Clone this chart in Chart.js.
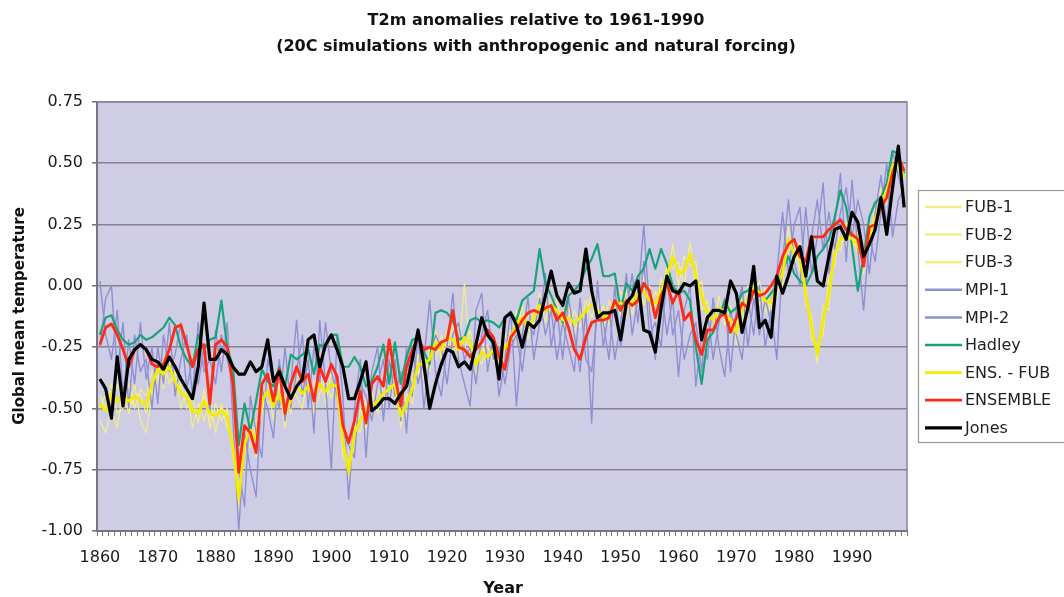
<!DOCTYPE html>
<html><head><meta charset="utf-8">
<script src="https://cdn.jsdelivr.net/npm/chart.js@4.4.0/dist/chart.umd.min.js"></script>
<style>html,body{margin:0;padding:0;background:#fff}#wrap{width:1064px;height:597px;position:relative}</style>
</head><body><div id="wrap"><canvas id="c" width="1064" height="597"></canvas></div>
<script>
const firstYear = 1860, lastYear = 1999;
const years = [];
for (let y = firstYear; y <= lastYear; y++) years.push(String(y));
const yTicks = [-1.00, -0.75, -0.50, -0.25, 0.00, 0.25, 0.50, 0.75];

const fub1 = [
-0.55,-0.60,-0.50,-0.58,-0.42,-0.52,-0.40,-0.55,-0.60,-0.45,
-0.38,-0.30,-0.40,-0.35,-0.50,-0.42,-0.58,-0.48,-0.55,-0.45,
-0.60,-0.48,-0.58,-0.62,-0.92,-0.60,-0.66,-0.55,-0.52,-0.38,
-0.55,-0.40,-0.58,-0.42,-0.45,-0.50,-0.35,-0.52,-0.44,-0.38,
-0.46,-0.36,-0.70,-0.72,-0.66,-0.50,-0.58,-0.43,-0.52,-0.40,
-0.48,-0.35,-0.58,-0.44,-0.48,-0.28,-0.38,-0.25,-0.30,-0.20,
-0.26,-0.16,-0.30,0.01,-0.28,-0.36,-0.22,-0.34,-0.20,-0.33,
-0.30,-0.18,-0.20,-0.08,-0.22,-0.10,-0.14,-0.04,-0.12,-0.06,
-0.18,-0.08,-0.20,-0.10,-0.14,-0.02,-0.15,-0.08,-0.16,-0.04,
-0.12,-0.02,-0.12,0.03,-0.08,0.00,-0.12,0.03,-0.01,0.17,
0.00,0.12,0.08,0.10,-0.10,-0.06,-0.20,-0.04,-0.16,-0.08,
-0.24,-0.04,-0.12,0.06,-0.08,-0.01,-0.12,0.05,0.00,0.24,
0.08,0.18,-0.08,-0.12,-0.32,-0.08,-0.10,0.18,0.14,0.26,
0.14,0.22,0.05,0.26,0.22,0.40,0.33,0.52,0.48,0.40];

const fub2 = [
-0.45,-0.50,-0.40,-0.52,-0.50,-0.40,-0.50,-0.42,-0.45,-0.35,
-0.30,-0.42,-0.28,-0.44,-0.40,-0.50,-0.46,-0.56,-0.42,-0.58,
-0.48,-0.55,-0.50,-0.70,-0.82,-0.68,-0.54,-0.70,-0.44,-0.48,
-0.44,-0.48,-0.45,-0.52,-0.36,-0.40,-0.47,-0.40,-0.36,-0.48,
-0.35,-0.46,-0.58,-0.80,-0.55,-0.60,-0.46,-0.54,-0.42,-0.48,
-0.38,-0.45,-0.48,-0.52,-0.36,-0.36,-0.28,-0.35,-0.18,-0.30,
-0.18,-0.27,-0.22,-0.26,-0.18,-0.28,-0.32,-0.24,-0.31,-0.25,
-0.20,-0.26,-0.10,-0.18,-0.12,-0.16,-0.03,-0.15,-0.04,-0.14,
-0.10,-0.18,-0.10,-0.17,-0.06,-0.13,-0.05,-0.18,-0.06,-0.12,
-0.02,-0.13,-0.02,-0.08,0.04,-0.11,-0.02,-0.07,0.09,0.07,
0.10,0.00,0.18,-0.02,0.02,-0.16,-0.08,-0.14,-0.06,-0.20,
-0.14,-0.14,0.00,-0.05,0.02,-0.11,-0.02,-0.05,0.10,0.14,
0.18,0.06,0.02,-0.22,-0.24,-0.20,0.04,0.08,0.24,0.16,
0.24,0.12,0.15,0.16,0.32,0.30,0.43,0.46,0.54,0.48];

const fub3 = [
-0.50,-0.44,-0.46,-0.40,-0.48,-0.50,-0.46,-0.44,-0.52,-0.42,
-0.36,-0.35,-0.32,-0.40,-0.42,-0.44,-0.50,-0.52,-0.45,-0.54,
-0.52,-0.50,-0.52,-0.66,-0.86,-0.64,-0.58,-0.64,-0.46,-0.44,
-0.48,-0.44,-0.50,-0.48,-0.42,-0.42,-0.42,-0.44,-0.40,-0.42,
-0.40,-0.42,-0.62,-0.76,-0.58,-0.56,-0.50,-0.50,-0.48,-0.44,
-0.40,-0.40,-0.54,-0.48,-0.42,-0.32,-0.30,-0.30,-0.22,-0.28,
-0.20,-0.22,-0.26,-0.20,-0.24,-0.32,-0.26,-0.30,-0.26,-0.28,
-0.26,-0.22,-0.16,-0.12,-0.18,-0.12,-0.08,-0.10,-0.08,-0.10,
-0.14,-0.12,-0.16,-0.12,-0.10,-0.08,-0.10,-0.14,-0.10,-0.08,
-0.08,-0.08,-0.06,-0.04,-0.02,-0.06,-0.08,-0.02,0.04,0.12,
0.06,0.06,0.12,0.04,-0.04,-0.10,-0.14,-0.10,-0.12,-0.14,
-0.18,-0.10,-0.06,0.00,-0.04,-0.06,-0.08,0.00,0.06,0.18,
0.12,0.12,-0.02,-0.16,-0.28,-0.14,-0.04,0.12,0.18,0.20,
0.18,0.16,0.10,0.20,0.26,0.34,0.38,0.48,0.50,0.44];

const mpi1 = [
0.02,-0.20,-0.30,-0.10,-0.45,-0.22,-0.40,-0.15,-0.38,-0.25,
-0.48,-0.20,-0.35,-0.28,-0.15,-0.42,-0.30,-0.40,-0.25,-0.52,
-0.18,-0.35,-0.15,-0.55,-1.00,-0.60,-0.75,-0.86,-0.42,-0.50,
-0.62,-0.30,-0.55,-0.40,-0.14,-0.45,-0.30,-0.60,-0.14,-0.40,
-0.75,-0.20,-0.45,-0.87,-0.50,-0.30,-0.70,-0.35,-0.25,-0.55,
-0.30,-0.45,-0.35,-0.60,-0.25,-0.40,-0.30,-0.06,-0.35,-0.45,
-0.25,-0.03,-0.30,-0.40,-0.49,-0.10,-0.03,-0.35,-0.20,-0.45,
-0.30,-0.10,-0.49,-0.20,-0.05,-0.30,-0.15,0.05,-0.25,-0.10,
-0.30,-0.05,-0.20,-0.35,-0.10,-0.56,0.02,-0.25,-0.10,-0.30,
-0.15,0.05,-0.20,-0.05,0.25,-0.10,-0.30,0.00,-0.20,-0.05,
-0.37,-0.10,0.00,-0.41,-0.20,-0.30,-0.05,-0.25,-0.37,-0.10,
-0.20,-0.30,-0.05,-0.20,0.00,-0.25,-0.10,-0.30,0.10,0.35,
0.10,0.00,0.32,0.05,0.20,0.42,0.05,0.25,0.46,0.10,
0.43,0.15,-0.10,0.20,0.10,0.30,0.50,0.20,0.35,0.40];

const mpi2 = [
-0.25,-0.05,0.00,-0.35,-0.15,-0.50,-0.20,-0.35,-0.30,-0.50,
-0.25,-0.40,-0.15,-0.45,-0.30,-0.20,-0.45,-0.15,-0.35,-0.30,
-0.40,-0.20,-0.30,-0.40,-0.75,-0.90,-0.45,-0.60,-0.70,-0.30,
-0.40,-0.50,-0.25,-0.50,-0.35,-0.20,-0.50,-0.25,-0.40,-0.15,
-0.35,-0.45,-0.60,-0.65,-0.70,-0.40,-0.45,-0.55,-0.40,-0.30,
-0.50,-0.30,-0.55,-0.25,-0.45,-0.20,-0.50,-0.30,-0.20,-0.25,
-0.40,-0.20,-0.15,-0.30,-0.25,-0.40,-0.20,-0.10,-0.30,-0.25,
-0.40,-0.25,-0.20,-0.35,-0.15,-0.20,-0.05,-0.20,-0.10,-0.30,
-0.15,-0.25,-0.35,-0.05,-0.30,-0.35,-0.10,-0.15,-0.30,0.00,
-0.25,-0.10,0.05,-0.15,0.10,-0.20,-0.15,-0.25,0.05,-0.20,
-0.10,-0.30,-0.20,-0.15,-0.35,-0.10,-0.30,-0.15,-0.05,-0.35,
-0.10,0.00,-0.25,-0.05,-0.20,-0.05,-0.15,0.05,0.30,0.05,
0.25,0.32,0.00,0.20,0.35,0.15,0.30,0.15,0.30,0.40,
0.20,0.35,0.25,0.05,0.30,0.45,0.25,0.55,0.45,0.35];

const hadley = [
-0.20,-0.13,-0.12,-0.18,-0.22,-0.24,-0.23,-0.20,-0.22,-0.21,
-0.19,-0.17,-0.13,-0.16,-0.25,-0.30,-0.33,-0.20,-0.26,-0.22,
-0.21,-0.06,-0.25,-0.33,-0.65,-0.48,-0.59,-0.47,-0.34,-0.39,
-0.41,-0.33,-0.41,-0.28,-0.30,-0.28,-0.26,-0.36,-0.24,-0.25,
-0.20,-0.20,-0.33,-0.33,-0.29,-0.33,-0.41,-0.39,-0.33,-0.24,
-0.40,-0.23,-0.40,-0.29,-0.22,-0.21,-0.27,-0.32,-0.11,-0.10,
-0.11,-0.14,-0.22,-0.21,-0.14,-0.13,-0.15,-0.14,-0.15,-0.17,
-0.13,-0.11,-0.14,-0.06,-0.04,-0.02,0.15,0.01,-0.04,-0.10,
-0.15,-0.04,-0.02,0.01,0.07,0.11,0.17,0.04,0.04,0.05,
-0.10,0.01,-0.02,0.04,0.07,0.15,0.07,0.15,0.09,0.00,
-0.03,-0.02,-0.06,-0.25,-0.40,-0.22,-0.19,-0.13,-0.06,-0.11,
-0.09,-0.03,-0.02,0.02,-0.03,-0.06,-0.03,0.00,0.06,0.12,
0.05,0.02,0.00,0.05,0.12,0.15,0.19,0.28,0.39,0.32,
0.16,-0.02,0.12,0.28,0.34,0.36,0.42,0.55,0.54,0.46];

const ensFub = [
-0.48,-0.51,-0.44,-0.47,-0.45,-0.47,-0.45,-0.47,-0.49,-0.40,
-0.34,-0.36,-0.33,-0.39,-0.44,-0.45,-0.51,-0.52,-0.47,-0.52,
-0.53,-0.51,-0.53,-0.66,-0.87,-0.64,-0.59,-0.63,-0.47,-0.43,
-0.49,-0.44,-0.51,-0.47,-0.41,-0.44,-0.41,-0.45,-0.40,-0.43,
-0.40,-0.41,-0.63,-0.76,-0.60,-0.55,-0.51,-0.49,-0.47,-0.44,
-0.42,-0.40,-0.53,-0.48,-0.42,-0.32,-0.32,-0.30,-0.23,-0.26,
-0.21,-0.22,-0.26,-0.21,-0.23,-0.32,-0.27,-0.29,-0.26,-0.29,
-0.25,-0.22,-0.15,-0.13,-0.17,-0.13,-0.08,-0.10,-0.08,-0.10,
-0.14,-0.13,-0.15,-0.13,-0.10,-0.08,-0.10,-0.13,-0.11,-0.08,
-0.07,-0.08,-0.07,-0.03,-0.02,-0.06,-0.07,-0.02,0.04,0.12,
0.05,0.06,0.13,0.04,-0.04,-0.11,-0.14,-0.09,-0.11,-0.14,
-0.19,-0.09,-0.06,0.00,-0.03,-0.06,-0.07,0.00,0.05,0.19,
0.13,0.12,-0.03,-0.17,-0.28,-0.14,-0.03,0.13,0.19,0.21,
0.19,0.17,0.10,0.21,0.27,0.35,0.38,0.49,0.51,0.44];

const ensemble = [
-0.24,-0.17,-0.155,-0.20,-0.26,-0.33,-0.26,-0.24,-0.26,-0.32,
-0.33,-0.32,-0.26,-0.17,-0.16,-0.24,-0.33,-0.26,-0.24,-0.48,
-0.24,-0.22,-0.25,-0.40,-0.76,-0.57,-0.60,-0.68,-0.40,-0.36,
-0.47,-0.34,-0.52,-0.40,-0.33,-0.39,-0.36,-0.47,-0.33,-0.39,
-0.32,-0.37,-0.57,-0.64,-0.55,-0.43,-0.56,-0.40,-0.37,-0.41,
-0.22,-0.37,-0.49,-0.33,-0.26,-0.21,-0.26,-0.25,-0.26,-0.23,
-0.22,-0.10,-0.25,-0.26,-0.29,-0.26,-0.23,-0.18,-0.21,-0.29,
-0.34,-0.21,-0.18,-0.14,-0.11,-0.10,-0.11,-0.09,-0.08,-0.14,
-0.11,-0.17,-0.26,-0.30,-0.21,-0.15,-0.14,-0.14,-0.13,-0.06,
-0.10,-0.06,-0.08,-0.06,0.01,-0.02,-0.13,-0.04,0.01,-0.07,
-0.02,-0.14,-0.11,-0.22,-0.28,-0.18,-0.18,-0.13,-0.11,-0.19,
-0.13,-0.07,-0.09,-0.02,-0.04,-0.03,0.00,0.04,0.12,0.17,
0.19,0.12,0.10,0.20,0.20,0.20,0.23,0.25,0.27,0.23,
0.21,0.19,0.08,0.24,0.25,0.32,0.36,0.46,0.53,0.47];

const jones = [
-0.38,-0.42,-0.54,-0.29,-0.49,-0.30,-0.26,-0.24,-0.26,-0.30,
-0.31,-0.34,-0.29,-0.33,-0.38,-0.42,-0.46,-0.33,-0.07,-0.30,
-0.30,-0.26,-0.28,-0.33,-0.36,-0.36,-0.31,-0.35,-0.33,-0.22,
-0.39,-0.35,-0.41,-0.46,-0.41,-0.38,-0.22,-0.20,-0.33,-0.24,
-0.20,-0.26,-0.33,-0.46,-0.46,-0.39,-0.31,-0.51,-0.49,-0.46,
-0.46,-0.48,-0.44,-0.41,-0.30,-0.18,-0.32,-0.50,-0.40,-0.32,
-0.26,-0.27,-0.33,-0.31,-0.34,-0.24,-0.13,-0.20,-0.23,-0.38,
-0.13,-0.11,-0.16,-0.25,-0.15,-0.17,-0.14,-0.04,0.06,-0.04,
-0.08,0.01,-0.03,-0.02,0.15,-0.02,-0.13,-0.11,-0.11,-0.10,
-0.22,-0.07,-0.04,0.02,-0.18,-0.19,-0.27,-0.09,0.04,-0.02,
-0.03,0.01,0.00,0.02,-0.22,-0.13,-0.10,-0.10,-0.11,0.02,
-0.03,-0.19,-0.09,0.08,-0.17,-0.14,-0.21,0.04,-0.03,0.04,
0.12,0.16,0.04,0.20,0.02,0.00,0.12,0.23,0.24,0.19,
0.30,0.26,0.12,0.17,0.23,0.36,0.21,0.40,0.57,0.32];

const seriesLabels = ['FUB-1','FUB-2','FUB-3','MPI-1','MPI-2','Hadley','ENS. - FUB','ENSEMBLE','Jones'];
const seriesData = [fub1, fub2, fub3, mpi1, mpi2, hadley, ensFub, ensemble, jones];
const seriesColors = ['#f3ef86','#f3ef86','#f3ef86','#8e90d2','#8e90d2','#1aa37a','#f4ec00','#ff2a14','#000000'];
const seriesWidths = [1.2,1.2,1.2,1.4,1.4,2.2,2.8,2.8,3.2];
const seriesOrder = [8,7,6,5,4,3,2,1,0];

const FONT = 'DejaVu Sans';

const decorPlugin = {
  id: 'decor',
  beforeDraw(chart) {
    const {ctx, chartArea: a} = chart;
    ctx.save();
    ctx.fillStyle = '#ffffff';
    ctx.fillRect(0, 0, chart.width, chart.height);
    ctx.fillStyle = '#cfcce6';
    ctx.fillRect(a.left, a.top, a.right - a.left, a.bottom - a.top);
    ctx.restore();
  },
  afterDraw(chart) {
    const {ctx, chartArea: a} = chart;
    ctx.save();
    ctx.strokeStyle = '#8a8894';
    ctx.lineWidth = 1.5;
    ctx.beginPath();
    ctx.moveTo(a.left, a.top); ctx.lineTo(a.right, a.top); ctx.lineTo(a.right, a.bottom);
    ctx.stroke();
    ctx.fillStyle = '#111';
    ctx.textAlign = 'center';
    ctx.textBaseline = 'middle';
    ctx.font = 'bold 16px "' + FONT + '"';
    ctx.fillText('T2m anomalies relative to 1961-1990', 536, 21);
    ctx.fillText('(20C simulations with anthropogenic and natural forcing)', 536, 47);
    ctx.fillText('Year', 503, 589);
    ctx.save();
    ctx.translate(20, 316);
    ctx.rotate(-Math.PI / 2);
    ctx.font = 'bold 15px "' + FONT + '"';
    ctx.fillText('Global mean temperature', 0, 0);
    ctx.restore();
    const lx = 918, ly = 190, lh = 252;
    ctx.strokeStyle = '#9a9a9a';
    ctx.lineWidth = 1.2;
    ctx.strokeRect(lx + 0.5, ly + 0.5, 1064 - lx + 20, lh);
    ctx.font = '16px "' + FONT + '"';
    ctx.textAlign = 'left';
    chart.data.datasets.forEach((ds, k) => {
      const y = 207 + k * 27.6;
      ctx.strokeStyle = ds.borderColor;
      ctx.lineWidth = Math.max(2.5, ds.borderWidth);
      ctx.beginPath(); ctx.moveTo(925, y); ctx.lineTo(962, y); ctx.stroke();
      ctx.fillStyle = '#222';
      ctx.fillText(ds.label, 965, y + 1);
    });
    ctx.restore();
  }
};

new Chart(document.getElementById('c'), {
  type: 'line',
  data: {
    labels: years,
    datasets: seriesLabels.map((lab, k) => ({
      label: lab,
      data: seriesData[k],
      borderColor: seriesColors[k],
      backgroundColor: seriesColors[k],
      borderWidth: seriesWidths[k],
      pointRadius: 0,
      tension: 0,
      fill: false,
      order: seriesOrder[k],
      borderJoinStyle: 'round'
    }))
  },
  options: {
    responsive: false,
    animation: false,
    layout: { padding: { left: 0, top: 102, right: 157, bottom: 0 } },
    plugins: { legend: { display: false }, tooltip: { enabled: false }, title: { display: false } },
    scales: {
      x: {
        type: 'category',
        offset: true,
        grid: { display: true, drawOnChartArea: false, drawTicks: true, tickLength: 5, offset: true, color: '#7a7880', lineWidth: 1 },
        border: { color: '#77757f', width: 2 },
        ticks: {
          autoSkip: false, maxRotation: 0, minRotation: 0, padding: 12,
          color: '#1a1a1a', font: { family: FONT, size: 16 },
          callback: function (v, i) { return (firstYear + i) % 10 === 0 ? years[i] : ''; }
        },
        afterFit(s) { s.height = 66; }
      },
      y: {
        min: yTicks[0], max: yTicks[yTicks.length - 1],
        afterBuildTicks(s) { s.ticks = yTicks.map(v => ({ value: v })); },
        grid: { color: '#85828e', lineWidth: 1.6, tickLength: 5, tickColor: '#77757f' },
        border: { color: '#77757f', width: 2 },
        ticks: { color: '#1a1a1a', font: { family: FONT, size: 16 }, padding: 9,
          callback: v => Number(v).toFixed(2) },
        afterFit(s) { s.width = 97; }
      }
    }
  },
  plugins: [decorPlugin]
});
</script>
</body></html>
